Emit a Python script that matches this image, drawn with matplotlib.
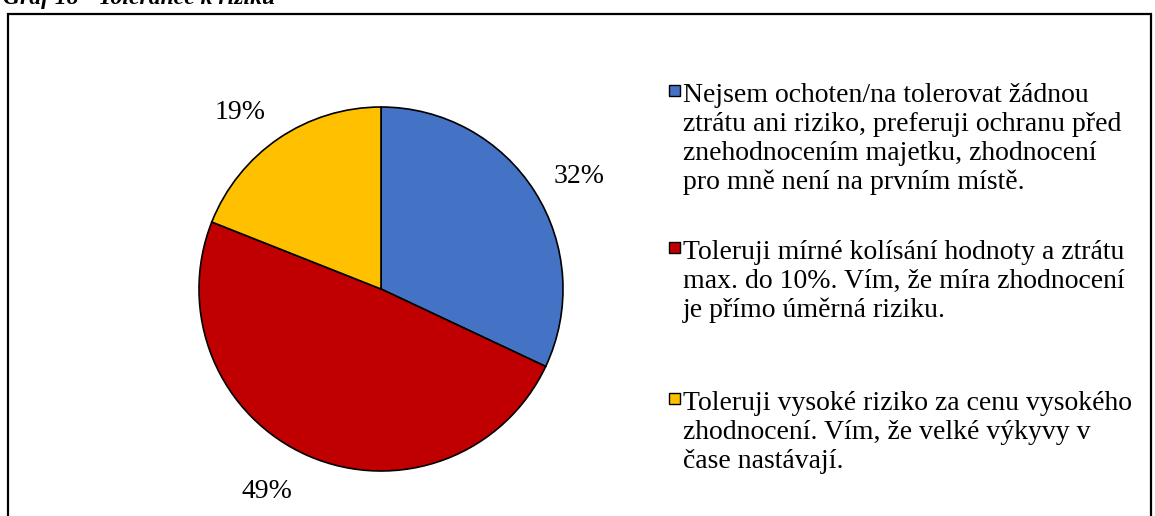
import numpy as np
import matplotlib.pyplot as plt
from matplotlib.patches import Rectangle

# ----- Data -----
labels = [
    "Nejsem ochoten/na tolerovat žádnou\nztrátu ani riziko, preferuji ochranu před\nznehodnocením majetku, zhodnocení\npro mně není na prvním místě.",
    "Toleruji mírné kolísání hodnoty a ztrátu\nmax. do 10%. Vím, že míra zhodnocení\nje přímo úměrná riziku.",
    "Toleruji vysoké riziko za cenu vysokého\nzhodnocení. Vím, že velké výkyvy v\nčase nastávají.",
]
shares = [32, 49, 19]
colors = ['#4472C4', '#C00000', '#FFC000']
title = "Graf 18 - Tolerance k riziku"

W, H = 1155, 516
plt.rcParams['font.family'] = ['Liberation Serif', 'DejaVu Serif']

fig = plt.figure(figsize=(W / 100, H / 100), dpi=100)
ax = fig.add_axes([0, 0, 1, 1])

# ----- Pie -----
cx, cy, rad = 381, H - 289, 182
wedges, texts, autotexts = ax.pie(
    shares, colors=colors, startangle=90, counterclock=False,
    center=(cx, cy), radius=rad, frame=True,
    autopct='%1.0f%%', pctdistance=1.26,
    wedgeprops=dict(edgecolor='black', linewidth=1.2),
    textprops=dict(fontsize=20))

# nudge the percentage labels like Excel's best-fit placement
nudge = [-2, -6.4, 3.8]
for w, t, dn in zip(wedges, autotexts, nudge):
    ang = np.deg2rad((w.theta1 + w.theta2) / 2 + dn)
    t.set_position((cx + 1.26 * rad * np.cos(ang),
                    cy + 1.26 * rad * np.sin(ang) - 4))

ax.set_xlim(0, W)
ax.set_ylim(0, H)
ax.set_aspect('equal')
ax.axis('off')

# outer frame (runs off the bottom edge)
ax.add_patch(Rectangle((8, -10), 1143, H - 14 + 10, fill=False,
                       edgecolor='black', linewidth=1.6))

# title, cut off at the top
ax.text(3, H - 4, title, fontsize=17, fontweight='bold', style='italic',
        va='baseline', ha='left')

# ----- Legend (manual, marker aligned with first line) -----
item_y = [90, 247, 398]
for lab, col, y in zip(labels, colors, item_y):
    ax.add_patch(Rectangle((669, H - y - 5.5), 11, 11, facecolor=col,
                           edgecolor='black', linewidth=1))
    ax.text(683, H - y + 7, lab, fontsize=20, va='top', ha='left',
            linespacing=1.2)

fig.savefig('out.png', dpi=100)
